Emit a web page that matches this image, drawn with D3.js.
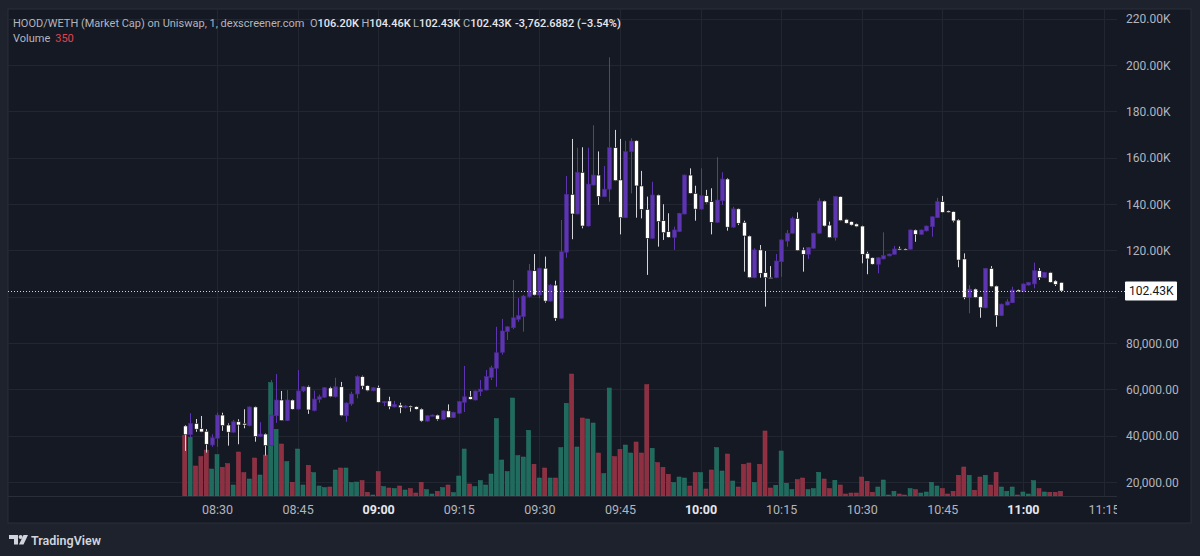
<!DOCTYPE html>
<html><head><meta charset="utf-8">
<script src="https://cdn.jsdelivr.net/npm/d3@7"></script>
<style>
html,body{margin:0;padding:0;background:#1e222d;overflow:hidden;}
svg{display:block;font-family:Roboto,"Noto Sans",sans-serif;}
</style></head>
<body>
<svg id="c" width="1200" height="556"></svg>
<script>
// ---------- data (values in K, 1-minute candles starting 08:24) ----------
const startTime = "08:24";
const openK  = [44.2,40.4,45.3,43.0,41.9,36.0,38.9,48.9,44.6,41.5,46.0,45.3,44.3,52.4,39.6,40.7,35.7,48.6,55.4,46.5,55.4,51.5,59.3,61.1,50.8,55.7,56.6,60.6,56.8,61.1,48.6,53.7,58.0,65.5,61.6,59.4,60.7,54.4,55.0,52.4,53.2,52.5,52.8,52.5,51.5,46.3,48.6,48.9,47.1,50.7,47.8,49.7,54.4,56.8,55.4,59.0,59.7,65.2,69.1,76.0,84.9,86.6,90.2,91.4,100.0,111.2,100.7,112.3,98.1,105.0,90.7,119.2,144.2,135.7,153.7,130.5,148.2,152.5,143.2,146.4,164.3,150.4,134.1,162.6,167.3,147.8,137.7,125.2,143.9,132.8,128.1,125.6,128.1,135.7,152.5,144.6,137.8,143.6,141.0,132.1,141.4,150.8,130.0,137.9,132.1,126.2,108.2,120.2,110.4,108.3,108.2,115.1,124.0,127.4,133.8,120.2,118.3,120.9,127.4,141.3,130.9,125.5,143.2,133.4,132.4,131.4,130.5,118.7,116.8,114.0,116.3,117.6,118.3,120.7,120.6,120.5,128.8,126.9,128.4,130.2,134.1,141.0,137.0,136.7,133.1,116.3,99.6,103.3,100.0,95.2,112.2,104.6,91.8,96.4,97.4,102.9,102.2,105.0,105.5,111.2,108.2,110.5,106.8,106.2];
const highK  = [44.6,49.7,47.2,48.5,42.8,40.6,49.9,49.9,45.3,46.8,47.1,51.4,52.6,52.6,45.8,41.0,64.0,66.6,59.3,59.7,55.6,68.3,61.4,61.6,59.4,57.7,61.0,61.1,65.0,63.2,54.4,59.0,66.0,65.9,61.8,60.9,61.6,55.0,56.8,55.0,54.2,53.2,53.0,52.8,51.8,48.8,49.1,49.1,50.9,53.5,50.3,55.0,70.1,59.3,59.5,64.0,68.3,70.2,87.0,90.4,87.2,107.2,99.4,100.7,114.1,118.4,112.5,117.3,105.4,106.9,133.1,152.1,168.1,164.3,164.5,164.3,174.0,162.7,156.4,203.3,172.0,168.1,167.3,168.4,167.6,154.3,143.2,149.6,144.1,139.9,136.0,130.2,136.2,152.7,155.4,147.9,155.4,146.1,146.8,160.2,153.7,151.2,138.8,138.1,132.8,126.4,120.9,122.3,119.7,113.2,118.4,124.7,128.8,134.5,136.4,121.2,121.4,127.6,142.5,141.5,132.4,143.4,143.4,133.6,132.6,131.6,130.7,119.4,117.0,117.0,127.8,118.6,121.9,121.6,120.8,129.0,129.0,129.0,130.7,134.7,142.7,143.5,137.2,136.9,133.5,118.7,105.0,103.5,100.2,112.4,113.2,104.8,97.0,98.9,104.3,103.1,105.7,106.4,114.7,112.3,110.7,110.7,107.2,106.2];
const lowK   = [33.4,38.9,41.7,41.5,32.7,35.2,35.2,42.1,35.7,41.2,36.3,43.2,44.0,37.4,39.4,31.4,35.0,45.5,46.5,46.3,51.2,51.2,58.8,49.4,50.5,54.2,56.3,56.6,56.5,48.4,46.0,52.9,56.1,60.1,59.2,59.2,54.2,52.8,51.4,52.2,49.7,51.8,50.4,51.2,45.9,46.1,48.4,46.5,46.9,47.6,47.6,49.4,50.2,55.5,55.2,57.1,59.5,64.0,61.1,75.0,81.3,86.0,89.2,84.9,99.6,100.5,99.3,97.4,97.9,89.6,90.5,116.8,124.8,135.5,129.5,130.3,148.0,139.6,143.0,141.0,149.9,126.9,133.9,144.6,134.1,133.8,109.4,125.0,121.6,124.5,125.4,120.2,127.9,135.5,144.4,132.8,137.6,140.3,126.9,131.9,139.6,128.5,129.8,130.9,110.8,108.0,108.0,108.2,95.7,108.0,108.0,108.6,121.6,127.2,119.7,110.8,116.3,120.7,127.2,130.3,125.3,124.2,132.6,131.5,130.7,130.0,114.4,109.7,113.8,110.1,116.1,117.4,118.1,120.1,120.1,120.3,123.7,126.7,128.2,125.9,133.9,136.2,136.2,132.1,112.7,98.9,92.8,99.4,90.9,95.0,104.1,87.0,91.6,96.2,97.2,102.0,102.0,104.8,103.6,107.2,108.0,106.0,104.6,102.4];
const closeK = [40.4,45.3,42.8,41.6,36.3,39.1,48.9,44.3,41.5,46.0,44.6,44.6,52.4,39.6,40.7,35.7,48.9,55.4,46.5,55.4,51.4,59.3,61.1,51.1,55.8,56.8,60.7,56.8,61.1,48.6,54.1,58.0,65.5,61.4,59.4,60.7,54.4,54.7,52.5,53.5,52.1,52.8,52.3,51.4,46.3,48.6,48.9,47.1,50.7,47.8,50.1,54.7,56.8,55.7,59.3,60.1,65.5,69.3,75.8,85.2,87.0,90.9,91.8,100.3,111.2,100.7,112.3,98.1,105.0,90.7,119.4,144.2,135.7,153.7,130.5,148.6,152.5,143.2,146.4,164.3,150.1,134.1,162.6,167.2,147.8,137.7,125.2,143.9,132.4,127.6,125.6,128.8,136.0,152.5,144.6,137.8,143.6,140.7,132.1,141.7,150.8,130.0,137.9,131.7,126.2,108.2,120.2,110.1,108.2,108.2,115.4,124.5,127.4,133.8,119.9,118.3,121.2,127.4,141.3,130.5,125.5,143.2,132.8,131.7,130.9,130.2,118.3,116.3,114.0,116.8,117.7,118.4,120.6,120.3,120.3,128.8,126.9,128.8,130.5,134.5,141.0,136.4,136.4,132.7,115.8,99.6,103.3,99.6,95.2,112.2,104.3,91.8,96.8,97.8,102.9,102.2,105.5,106.2,111.2,108.2,110.5,106.2,105.3,102.43];
const volume = [4575,4400,2250,2950,3450,2025,3100,2150,2425,825,3300,1750,1275,2850,1575,3075,8500,5000,3900,2575,1025,3525,825,2300,1750,750,625,675,1950,2100,2100,1000,1050,1150,275,75,1825,700,600,550,750,450,550,225,1025,475,150,350,625,825,250,1500,3525,900,700,1150,825,1650,5800,2700,1825,7350,3025,2925,4925,2375,1350,2100,1350,1350,3625,6950,9150,3675,5850,5775,5475,3225,1675,8100,2950,3500,3825,3225,4050,3225,8350,3575,2500,2150,1625,1000,1425,1350,750,1750,1750,525,1950,3625,1875,3150,1125,675,2375,2475,1000,2375,4875,600,800,3375,950,475,1225,1350,475,550,1775,1275,550,1175,825,150,225,225,1425,1100,275,675,1200,75,350,150,75,550,475,225,300,1025,750,550,150,350,1550,2175,1550,425,1425,1550,825,1775,675,350,675,75,300,150,1150,550,300,275,275,350];
const timeTickLabels = ["08:30","08:45","09:00","09:15","09:30","09:45","10:00","10:15","10:30","10:45","11:00","11:15"];
const priceTicks = [20,40,60,80,100,120,140,160,180,200,220];
// the 100.00K label is hidden under the last-price tag in the reference
const priceTickLabels = ["20,000.00","40,000.00","60,000.00","80,000.00","","120.00K","140.00K","160.00K","180.00K","200.00K","220.00K"];
const lastPrice = 102.43, lastPriceLabel = "102.43K";
const titleText = "HOOD/WETH (Market Cap) on Uniswap, 1, dexscreener.com";
const ohlcLabels = [["O","106.20K"],["H","104.46K"],["L","102.43K"],["C","102.43K"]];
const changeText = "-3,762.6882 (\u22123.54%)";
const volumeLast = "350";

// ---------- build ----------
const parse = d3.timeParse("%H:%M");
const t0 = parse(startTime);
const candles = openK.map((o,i)=>({t:d3.timeMinute.offset(t0,i),o,h:highK[i],l:lowK[i],c:closeK[i],v:volume[i],up:closeK[i]>=o}));

const W=1200,H=556;
const plot={l:8,r:1117,t:9,b:496};
const svg=d3.select("#c");
const C={outer:"#1e222d",inner:"#151924",grid:"#222631",border:"#2a2e39",text:"#b2b5be",white:"#e6e8ee",
  up:"#5e35b1",down:"#ffffff",volUp:"#1f6b5d",volDown:"#8f3042"};

svg.append("rect").attr("width",W).attr("height",H).attr("fill",C.outer);
svg.append("rect").attr("x",8).attr("y",9).attr("width",1183).attr("height",514).attr("fill",C.inner).attr("stroke",C.border).attr("stroke-width",1);

const x=d3.scaleTime().domain([parse("08:30"),parse("11:15")]).range([217,1103.5]);
const y=d3.scaleLinear().domain([20,220]).range([482,18.7]);
const yv=d3.scaleLinear().domain([0,10000]).range([plot.b,plot.b-133.3]);

const defs=svg.append("defs");
defs.append("clipPath").attr("id","plotclip").append("rect").attr("x",plot.l).attr("y",plot.t).attr("width",plot.r-plot.l).attr("height",plot.b-plot.t);
defs.append("clipPath").attr("id","timeclip").append("rect").attr("x",plot.l).attr("y",plot.b).attr("width",plot.r-plot.l).attr("height",27);

const timeTicks=timeTickLabels.map(parse);
// grid
const grid=svg.append("g").attr("clip-path","url(#plotclip)");
grid.selectAll(".gv").data(timeTicks).join("line").attr("x1",d=>Math.round(x(d))+0.5).attr("x2",d=>Math.round(x(d))+0.5)
  .attr("y1",plot.t).attr("y2",plot.b).attr("stroke",C.grid).attr("stroke-width",1);
grid.selectAll(".gh").data(priceTicks).join("line").attr("y1",d=>Math.round(y(d))+0.5).attr("y2",d=>Math.round(y(d))+0.5)
  .attr("x1",plot.l).attr("x2",plot.r).attr("stroke",C.grid).attr("stroke-width",1);
svg.append("line").attr("x1",plot.l).attr("x2",plot.r).attr("y1",plot.b+0.5).attr("y2",plot.b+0.5).attr("stroke",C.border);

const marks=svg.append("g").attr("clip-path","url(#plotclip)");
const bw=4;
// volume
marks.selectAll(".vol").data(candles).join("rect")
  .attr("x",d=>x(d.t)-bw/2).attr("width",bw)
  .attr("y",d=>yv(d.v)).attr("height",d=>plot.b-yv(d.v))
  .attr("fill",d=>d.up?C.volUp:C.volDown)
  .attr("stroke",d=>d.up?"#2a7d6c":"#a33c4f").attr("stroke-width",0.5);
// wicks
marks.selectAll(".wick").data(candles).join("line")
  .attr("x1",d=>Math.round(x(d.t))+0.5).attr("x2",d=>Math.round(x(d.t))+0.5)
  .attr("y1",d=>y(d.h)).attr("y2",d=>y(d.l))
  .attr("stroke",d=>d.up?C.up:"#d4d4d8").attr("stroke-width",1);
// bodies
marks.selectAll(".body").data(candles).join("rect")
  .attr("x",d=>Math.round(x(d.t))+0.5-bw/2).attr("width",bw)
  .attr("y",d=>y(Math.max(d.o,d.c)))
  .attr("height",d=>Math.max(1.2,Math.abs(y(d.o)-y(d.c))))
  .attr("fill",d=>d.up?C.up:C.down)
  .attr("stroke",d=>d.up?"#4a2a8f":"#111").attr("stroke-width",0.6);

// last price dotted line
svg.append("line").attr("x1",plot.l).attr("x2",1125).attr("y1",Math.round(y(lastPrice))+0.5).attr("y2",Math.round(y(lastPrice))+0.5)
  .attr("stroke","#d0d3da").attr("stroke-width",1).attr("stroke-dasharray","1,2");

// time axis
const gx=svg.append("g").attr("clip-path","url(#timeclip)")
  .call(d3.axisBottom(x).tickValues(timeTicks).tickFormat((d,i)=>timeTickLabels[i]).tickSize(0));
gx.select(".domain").remove();
gx.selectAll("text").attr("y",514).attr("dy",null).attr("font-size",12.5)
  .attr("font-family","Roboto,sans-serif")
  .attr("fill",d=>d.getMinutes()===0?C.white:C.text).attr("font-weight",d=>d.getMinutes()===0?700:400);

// price axis
const gy=svg.append("g").attr("transform","translate(1126,0)")
  .call(d3.axisRight(y).tickValues(priceTicks).tickFormat((d,i)=>priceTickLabels[i]).tickSize(0));
gy.select(".domain").remove();
gy.selectAll("text").attr("x",0).attr("dy","0.35em").attr("text-anchor","start").attr("font-size",12)
  .attr("font-family","Roboto,sans-serif").attr("fill",C.text);

// last price label
const ly=y(lastPrice);
svg.append("rect").attr("x",1125).attr("y",ly-9.5).attr("width",52).attr("height",19).attr("fill","#ffffff").attr("rx",1);
svg.append("text").attr("x",1129).attr("y",ly).attr("dy","0.35em").attr("font-size",12).attr("fill","#131722").text(lastPriceLabel);

// header
const hdr=svg.append("g").attr("font-size",11).attr("font-family","Roboto,sans-serif");
hdr.append("text").attr("x",13).attr("y",26.5).attr("fill",C.text).text(titleText);
const ox=[310,361.5,413,463];
ohlcLabels.forEach((p,i)=>{
  const tx=hdr.append("text").attr("x",ox[i]).attr("y",26.5);
  tx.append("tspan").attr("fill",C.text).text(p[0]);
  tx.append("tspan").attr("fill",C.white).attr("font-weight",500).text(p[1]);
});
hdr.append("text").attr("x",515).attr("y",26.5).attr("fill",C.white).attr("font-weight",500).text(changeText);
const vt=hdr.append("text").attr("x",13).attr("y",42);
vt.append("tspan").attr("fill",C.text).text("Volume");
vt.append("tspan").attr("dx",5).attr("fill","#e0434f").text(volumeLast);

// TradingView logo
const lg=svg.append("g").attr("fill","#d1d4dc");
lg.append("path").attr("d","M9,535 h9 v9.5 h-4 v-5.5 h-5 z");
lg.append("circle").attr("cx",20.6).attr("cy",537).attr("r",2);
lg.append("path").attr("d","M23.5,535 h4.5 l-4.5,9.5 h-4.5 z");
lg.append("text").attr("x",31).attr("y",545).attr("font-size",12.5).attr("font-weight",600).attr("font-family","Roboto,sans-serif").text("TradingView");
</script>
</body></html>
